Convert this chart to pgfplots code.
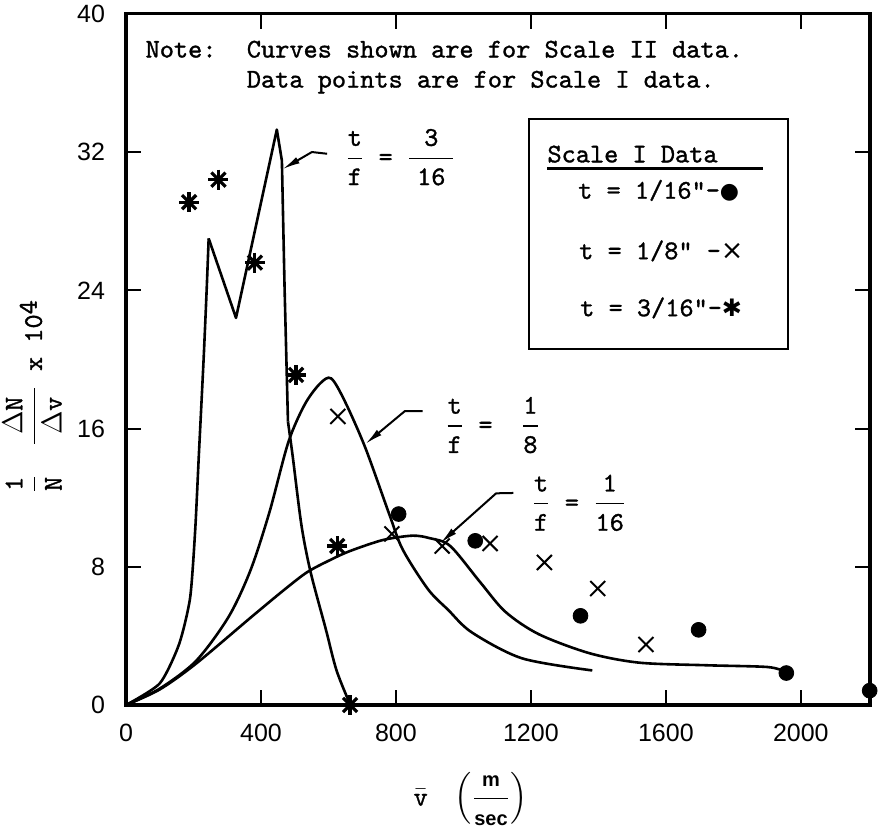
\documentclass[border=0pt]{standalone}
\usepackage{fontspec}
\usepackage{amsmath}
\usepackage{pgfplots}
\pgfplotsset{compat=1.18}
\usetikzlibrary{arrows.meta}
\setsansfont{Liberation Sans}
\setmonofont[FakeBold=1.2]{lmmono10-regular.otf}
\newfontfamily\symf{DejaVu Sans}
\newcommand{\ttN}{\ttfamily\fontsize{13.5}{16}\selectfont}
\newcommand{\tfr}[2]{$\displaystyle\frac{\hbox{#1}}{\hbox{#2}}$}
\newcommand{\tfrw}[3]{$\displaystyle\frac{\hbox to #1{\hss #2\hss}}{\hbox to #1{\hss #3\hss}}$}

\begin{document}
\begin{tikzpicture}
\begin{axis}[
  scale only axis, width=372pt, height=345.6pt,
  xmin=0, xmax=2205, ymin=0, ymax=40,
  xtick={0,400,...,2000}, ytick={0,8,...,40},
  tick align=inside, major tick length=7.5pt,
  every tick/.style={black, line width=1pt},
  axis line style={line width=1.6pt},
  tick label style={font=\sffamily\fontsize{12.5}{14}\selectfont},
  /pgf/number format/assume math mode=true,
  /pgf/number format/1000 sep={},
  xticklabel style={yshift=-6pt},
  yticklabel style={xshift=-7pt},
  clip=false,
  xlabel={\ttN $\bar{\hbox{v}}$\quad $\left(\vcenter{\hbox{\rule{0pt}{24pt}}}\displaystyle\frac{\hbox{\sffamily\bfseries\fontsize{10}{12}\selectfont m}}{\hbox{\sffamily\bfseries\fontsize{10}{12}\selectfont sec}}\right)$},
  xlabel style={at={(rel axis cs:0.463,-0.136)}, anchor=center},
  ylabel={\ttN \tfr{1}{N}\ \ \tfrw{28pt}{$\Delta$N}{$\Delta$v}\ x 10\raisebox{0.45ex}{4}},
  ylabel style={at={(rel axis cs:-0.126,0.446)}, anchor=center},
]
\coordinate (O) at (rel axis cs:0,0);

% t/f = 3/16 curve (Scale II)
\addplot[black, line width=1.3pt, smooth, tension=0.4] coordinates {
(0,0)(100,1.25)(157,3.5)(190,6.2)(205,10.1)(216,14.5)(230,20)(239,24)(245,27)};
\addplot[black, line width=1.3pt, line join=round] coordinates {
(245,27)(326,22.4)(447,33.3)(462,31.5)(470,24.1)(480,16.4)};
\addplot[black, line width=1.3pt, smooth, tension=0.5] coordinates {
(480,16.4)(494,14.4)(520,10.4)(547,7.7)(592,4.4)(624,2.0)(665,0)};

% t/f = 1/8 curve
\addplot[black, line width=1.3pt, smooth, tension=0.5] coordinates {
(0,0)(100,0.95)(208,2.56)(304,5.1)(369,7.8)(425,11.15)(481,15.2)(530,17.4)(575,18.6)(608,18.9)(648,17.6)(709,14.9)(781,11.0)(820,9.0)(895,6.7)(955,5.5)(1025,4.2)(1174,2.7)(1382,2.0)};

% t/f = 1/16 curve
\addplot[black, line width=1.3pt, smooth, tension=0.5] coordinates {
(0,0)(100,0.9)(208,2.4)(372,5.1)(471,6.7)(538,7.7)(606,8.4)(656,8.85)(720,9.3)(773,9.6)(850,9.8)(901,9.65)(961,9.2)(1050,7.1)(1124,5.4)(1223,4.1)(1373,3.0)(1521,2.45)(1720,2.3)(1900,2.2)(1950,1.95)};

% Scale I data points
\addplot[only marks, mark=*, mark size=3.7pt, black] coordinates {
(808,11.05)(1035,9.5)(1347,5.16)(1697,4.35)(1957,1.85)(2204,0.83)};
\addplot[only marks, mark=x, mark size=5.3pt, black, line width=1pt] coordinates {
(628,16.7)(788,9.9)(937,9.2)(1079,9.35)(1240,8.25)(1398,6.74)(1541,3.5)};
\addplot[only marks, mark=+, mark size=5pt, black, line width=1.6pt] coordinates {
(187,29.1)(274,30.4)(382,25.6)(504,19.1)(626,9.2)(664,0)};
\addplot[only marks, mark=x, mark size=5pt, black, line width=1.6pt] coordinates {
(187,29.1)(274,30.4)(382,25.6)(504,19.1)(626,9.2)(664,0)};

% Note
\node[anchor=base west, inner sep=0, font=\ttN] at (axis cs:57,37.47) {Note:};
\node[anchor=base west, inner sep=0, font=\ttN] at (axis cs:357,37.47) {Curves shown are for Scale II data.};
\node[anchor=base west, inner sep=0, font=\ttN] at (axis cs:357,35.73) {Data points are for Scale I data.};

% Legend box
\draw[line width=1pt] (axis cs:1195,20.6) rectangle (axis cs:1962,33.9);
\node[anchor=base west, inner sep=0, font=\ttN] at (axis cs:1248,31.4) {Scale I Data};
\draw[line width=1.2pt] (axis cs:1248,31.05) -- (axis cs:1889,31.05);
\node[anchor=base west, inner sep=0, font=\ttN] at (axis cs:1339,29.3) {t = 1/16"-{\symf\fontsize{11}{12}\selectfont ●}};
\node[anchor=base west, inner sep=0, font=\ttN] at (axis cs:1342,25.8) {t = 1/8" -{\symf ×}};
\node[anchor=base west, inner sep=0, font=\ttN] at (axis cs:1345,22.5) {t = 3/16"-{\symf\fontsize{12}{12}\selectfont ✱}};

% Curve annotations
\node[anchor=west, inner sep=0, font=\ttN] at (axis cs:649,31.7) {\tfr{t}{f} = \tfrw{22pt}{3}{16}};
\draw[line width=1pt, -{Latex[length=9pt,width=3.5pt]}] (axis cs:596,31.9) -- (axis cs:551,32.0) -- (axis cs:463,31.0);
\node[anchor=west, inner sep=0, font=\ttN] at (axis cs:945,16.2) {\tfr{t}{f} = \ \tfr{1}{8}};
\draw[line width=1pt, -{Latex[length=9pt,width=3.5pt]}] (axis cs:879,17.0) -- (axis cs:826,17.0) -- (axis cs:709,15.1);
\node[anchor=west, inner sep=0, font=\ttN] at (axis cs:1201,11.7) {\tfr{t}{f} = \tfr{1}{16}};
\draw[line width=1pt, -{Latex[length=9pt,width=3.5pt]}] (axis cs:1148,12.27) -- (axis cs:1097,12.25) -- (axis cs:931,9.36);
\end{axis}
\pgfresetboundingbox
\useasboundingbox (O) ++(-63pt,-64pt) rectangle ++(443pt,416.5pt);
\end{tikzpicture}
\end{document}
